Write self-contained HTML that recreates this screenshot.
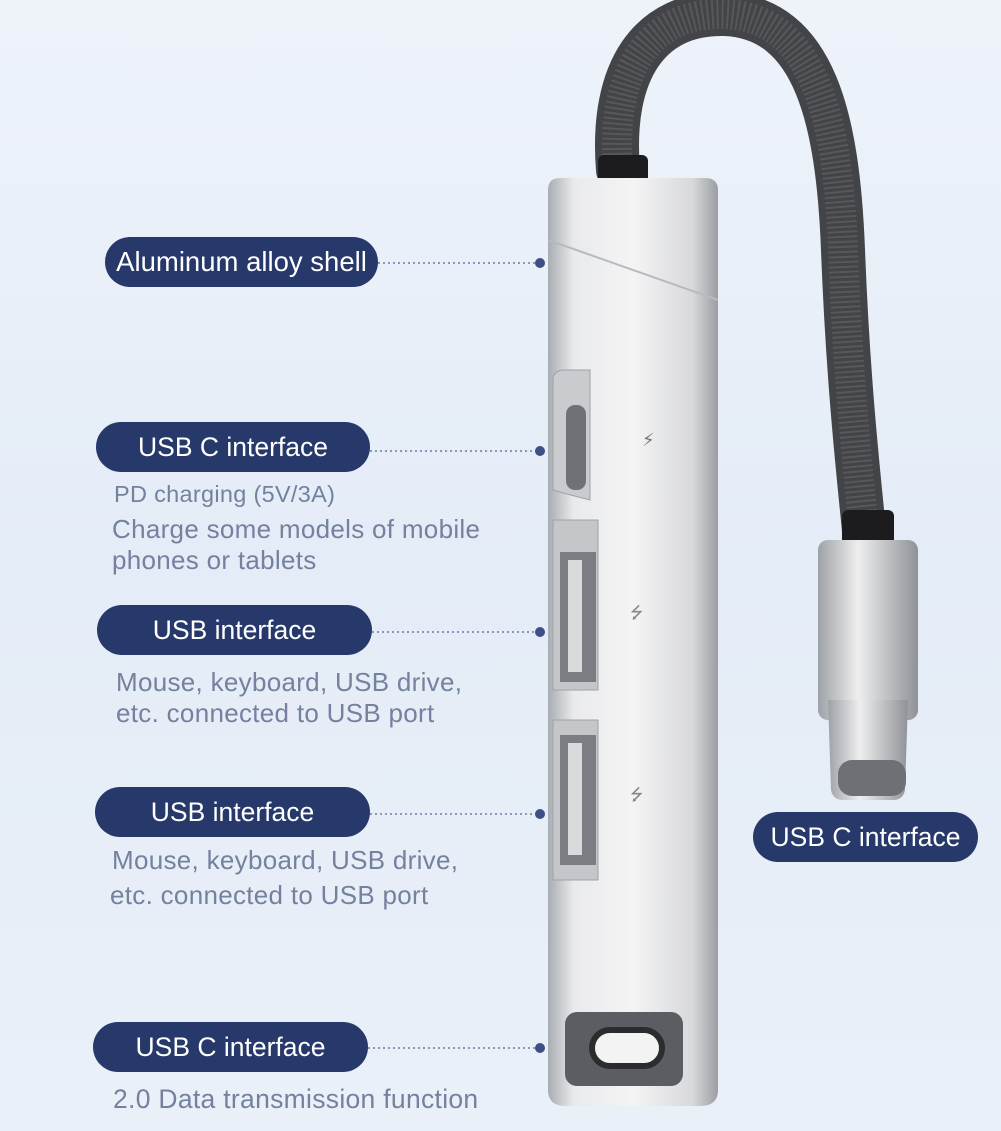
<!DOCTYPE html>
<html><head><meta charset="utf-8"><style>
html,body{margin:0;padding:0}
body{width:1001px;height:1131px;position:relative;overflow:hidden;background:linear-gradient(180deg,#eef3fa 0%,#e4ecf7 50%,#eaf0f8 100%);font-family:"Liberation Sans","DejaVu Sans",sans-serif}
.pill{position:absolute;background:#27386a;color:#fff;border-radius:26px;height:50px;line-height:50px;text-align:center;font-size:26.5px}
.t{position:absolute;color:#74819f;font-size:26px;line-height:31px;letter-spacing:.3px;white-space:nowrap}
svg{position:absolute;left:0;top:0}
</style></head><body>
<svg width="1001" height="1131">
<defs>
<linearGradient id="al" x1="0" x2="1"><stop offset="0" stop-color="#a9acb1"/><stop offset=".15" stop-color="#e9eaec"/><stop offset=".5" stop-color="#f4f4f5"/><stop offset=".85" stop-color="#d8d9db"/><stop offset="1" stop-color="#9a9da2"/></linearGradient>
<linearGradient id="cn" x1="0" x2="1"><stop offset="0" stop-color="#9ea1a6"/><stop offset=".4" stop-color="#eeeeef"/><stop offset="1" stop-color="#8f9297"/></linearGradient>
</defs>
<path d="M618 170 C610 70 650 12 725 14 C815 18 838 120 843 250 C848 380 858 470 865 540" fill="none" stroke="#434447" stroke-width="44" stroke-linecap="round"/>
<path d="M618 170 C610 70 650 12 725 14 C815 18 838 120 843 250 C848 380 858 470 865 540" fill="none" stroke="#6a6c70" stroke-width="30" stroke-dasharray="2 3" opacity=".5"/>
<rect x="598" y="155" width="50" height="40" rx="6" fill="#1c1c1e"/>
<rect x="842" y="510" width="52" height="45" rx="6" fill="#1c1c1e"/>
<rect x="818" y="540" width="100" height="180" rx="10" fill="url(#cn)"/>
<path d="M828 700 L908 700 L905 790 Q903 800 893 800 L843 800 Q833 800 831 790 Z" fill="url(#cn)"/>
<rect x="838" y="760" width="68" height="36" rx="14" fill="#6d7075"/>
<path d="M548 190 Q548 178 560 178 L705 178 Q718 178 718 190 L718 1090 Q718 1106 700 1106 L566 1106 Q548 1106 548 1090 Z" fill="url(#al)"/>
<line x1="548" y1="240" x2="718" y2="300" stroke="#b8babd" stroke-width="2"/>
<path d="M553 380 Q553 370 565 370 L590 370 L590 500 Q570 495 553 490 Z" fill="#c9cbcf" stroke="#9fa2a7"/>
<rect x="566" y="405" width="20" height="85" rx="9" fill="#6e7176"/>
<path d="M553 520 L598 520 L598 690 L553 690 Z" fill="#c4c6ca" stroke="#9fa2a7"/>
<rect x="560" y="552" width="36" height="130" fill="#7a7d82"/><rect x="568" y="560" width="14" height="112" fill="#d9dadc"/>
<path d="M553 720 L598 720 L598 880 L553 880 Z" fill="#c4c6ca" stroke="#9fa2a7"/>
<rect x="560" y="735" width="36" height="130" fill="#7a7d82"/><rect x="568" y="743" width="14" height="112" fill="#d9dadc"/>
<rect x="565" y="1012" width="118" height="74" rx="12" fill="#5a5d62"/>
<rect x="592" y="1030" width="70" height="36" rx="18" fill="#f3f3f4" stroke="#2b2c2e" stroke-width="6"/>
<text x="642" y="446" font-size="18" fill="#777" font-family="DejaVu Sans">⚡</text>
<text x="630" y="618" font-size="16" fill="#888" font-family="DejaVu Sans">⭍</text>
<text x="630" y="800" font-size="16" fill="#888" font-family="DejaVu Sans">⭍</text>
<g stroke="#6b7ba6" stroke-width="1.5" stroke-dasharray="2 3">
<line x1="378" y1="263" x2="538" y2="263"/><line x1="370" y1="451" x2="538" y2="451"/>
<line x1="372" y1="632" x2="538" y2="632"/><line x1="370" y1="814" x2="538" y2="814"/>
<line x1="368" y1="1048" x2="538" y2="1048"/></g>
<g fill="#3d4f85"><circle cx="540" cy="263" r="5"/><circle cx="540" cy="451" r="5"/><circle cx="540" cy="632" r="5"/><circle cx="540" cy="814" r="5"/><circle cx="540" cy="1048" r="5"/></g>
</svg>
<div class="pill" style="left:105px;top:237px;width:273px;font-size:27.5px">Aluminum alloy shell</div>
<div class="pill" style="left:96px;top:422px;width:274px">USB C interface</div>
<div class="pill" style="left:97px;top:605px;width:275px">USB interface</div>
<div class="pill" style="left:95px;top:787px;width:275px">USB interface</div>
<div class="pill" style="left:93px;top:1022px;width:275px">USB C interface</div>
<div class="pill" style="left:753px;top:812px;width:225px">USB C interface</div>
<div class="t" style="left:114px;top:479px;font-size:23.5px">PD charging (5V/3A)</div>
<div class="t" style="left:112px;top:514px">Charge some models of mobile<br>phones or tablets</div>
<div class="t" style="left:116px;top:667px">Mouse, keyboard, USB drive,<br>etc. connected to USB port</div>
<div class="t" style="left:112px;top:845px">Mouse, keyboard, USB drive,</div>
<div class="t" style="left:110px;top:880px">etc. connected to USB port</div>
<div class="t" style="left:113px;top:1084px;font-size:26.5px">2.0 Data transmission function</div>
</body></html>
